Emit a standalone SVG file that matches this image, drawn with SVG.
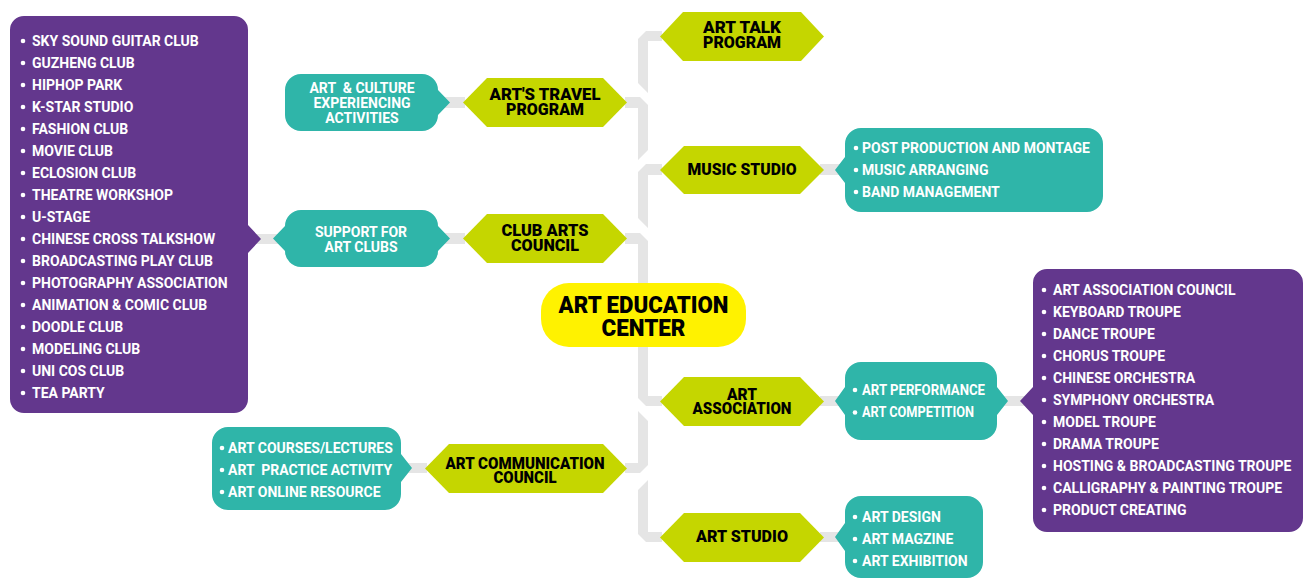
<svg xmlns="http://www.w3.org/2000/svg" width="1308" height="579" viewBox="0 0 1308 579">
<style>
.con{fill:#e5e5e5}
.hex{fill:#c5d600}
.teal{fill:#2fb5a9}
.purp{fill:#63378d}
.ctr{fill:#fff200}
.hx{font-family:Roboto,"Liberation Sans",sans-serif;font-weight:900;font-size:16.5px;fill:#000;text-anchor:middle}
.big{font-size:24px}
.lt{font-family:Roboto,"Liberation Sans",sans-serif;font-weight:700;font-size:14px;fill:#fff}
.ct{text-anchor:middle}
.pre{white-space:pre}
.dot{fill:#fff}
</style>
<rect width="1308" height="579" fill="#fff"/>
<g id="connectors">
<polygon class="con" points="646,31 662,31 662,41 648,41 648,93 638,83 638,39"/>
<polygon class="con" points="625,97 640,97 648,105 648,150 638,160 638,108 625,108"/>
<polygon class="con" points="646,164 662,164 662,175 648,175 648,228 638,218 638,172"/>
<polygon class="con" points="625,233 640,233 648,241 648,285 638,285 638,244 625,244"/>
<polygon class="con" points="638,345 648,345 648,396 662,396 662,406 646,406 638,398"/>
<polygon class="con" points="638,411 648,421 648,465 640,473 625,473 625,463 638,463"/>
<polygon class="con" points="648,480 648,532 662,532 662,542 646,542 638,534 638,490"/>
<rect class="con" x="246" y="234" width="40" height="10"/>
<rect class="con" x="436" y="97" width="29" height="11"/>
<rect class="con" x="436" y="233" width="29" height="11"/>
<rect class="con" x="820" y="164" width="27" height="11"/>
<rect class="con" x="820" y="396" width="27" height="10"/>
<rect class="con" x="995" y="396" width="40" height="10"/>
<rect class="con" x="399" y="463" width="28" height="10"/>
<rect class="con" x="820" y="532" width="27" height="10"/>
</g>
<g id="center">
<rect class="ctr" x="541" y="283" width="205" height="64" rx="28"/>
<text class="hx big" x="643.5" y="313" textLength="170" lengthAdjust="spacingAndGlyphs">ART EDUCATION</text>
<text class="hx big" x="643.5" y="336" textLength="84" lengthAdjust="spacingAndGlyphs">CENTER</text>
</g>
<g id="art-talk">
<polygon class="hex" points="660,36.5 683,12 801,12 824,36.5 801,61 683,61"/>
<text class="hx" x="742" y="33" textLength="78" lengthAdjust="spacingAndGlyphs">ART TALK</text>
<text class="hx" x="742" y="48" textLength="78" lengthAdjust="spacingAndGlyphs">PROGRAM</text>
</g>
<g id="arts-travel">
<polygon class="hex" points="463,102.5 487,78 603,78 627,102.5 603,127 487,127"/>
<text class="hx" x="545" y="100" textLength="111" lengthAdjust="spacingAndGlyphs">ART'S TRAVEL</text>
<text class="hx" x="545" y="115" textLength="78" lengthAdjust="spacingAndGlyphs">PROGRAM</text>
</g>
<g id="music-studio">
<polygon class="hex" points="660,170 684,146 800,146 824,170 800,194 684,194"/>
<text class="hx" x="742" y="175" textLength="109" lengthAdjust="spacingAndGlyphs">MUSIC STUDIO</text>
</g>
<g id="club-arts">
<polygon class="hex" points="463,238.5 487,214 603,214 627,238.5 603,263 487,263"/>
<text class="hx" x="545" y="236" textLength="87" lengthAdjust="spacingAndGlyphs">CLUB ARTS</text>
<text class="hx" x="545" y="251" textLength="68" lengthAdjust="spacingAndGlyphs">COUNCIL</text>
</g>
<g id="art-association">
<polygon class="hex" points="660,401.5 684,377 800,377 824,401.5 800,426 684,426"/>
<text class="hx" x="742" y="400" textLength="30" lengthAdjust="spacingAndGlyphs">ART</text>
<text class="hx" x="742" y="414" textLength="99" lengthAdjust="spacingAndGlyphs">ASSOCIATION</text>
</g>
<g id="art-communication">
<polygon class="hex" points="425,468.5 449,444 603,444 627,468.5 603,493 449,493"/>
<text class="hx" x="525" y="469" textLength="159" lengthAdjust="spacingAndGlyphs">ART COMMUNICATION</text>
<text class="hx" x="525" y="483" textLength="63" lengthAdjust="spacingAndGlyphs">COUNCIL</text>
</g>
<g id="art-studio">
<polygon class="hex" points="660,537.5 684,513 800,513 824,537.5 800,562 684,562"/>
<text class="hx" x="742" y="542" textLength="92" lengthAdjust="spacingAndGlyphs">ART STUDIO</text>
</g>
<g id="culture-activities">
<path class="teal" d="M301,74 H422 A16,16 0 0 1 438,90 L450,102.5 L438,115 A16,16 0 0 1 422,131 H301 A16,16 0 0 1 285,115 V90 A16,16 0 0 1 301,74 Z"/>
<text class="lt ct pre" x="362" y="93" xml:space="preserve">ART  &amp; CULTURE</text>
<text class="lt ct" x="362" y="108">EXPERIENCING</text>
<text class="lt ct" x="362" y="123">ACTIVITIES</text>
</g>
<g id="support-clubs">
<path class="teal" d="M301,210 H422 A16,16 0 0 1 438,226 L450,238.5 L438,251 A16,16 0 0 1 422,267 H301 A16,16 0 0 1 285,251 L273,238.5 L285,226 A16,16 0 0 1 301,210 Z"/>
<text class="lt ct" x="361" y="237">SUPPORT FOR</text>
<text class="lt ct" x="361" y="252">ART CLUBS</text>
</g>
<g id="clubs-list">
<path class="purp" d="M24,16 H234 A14,14 0 0 1 248,30 V225 L261,239 L248,253 V399 A14,14 0 0 1 234,413 H24 A14,14 0 0 1 10,399 V30 A14,14 0 0 1 24,16 Z"/>
<g class="dot">
<circle cx="23" cy="41" r="2.3"/><circle cx="23" cy="63" r="2.3"/><circle cx="23" cy="85" r="2.3"/><circle cx="23" cy="107" r="2.3"/><circle cx="23" cy="129" r="2.3"/><circle cx="23" cy="151" r="2.3"/><circle cx="23" cy="173" r="2.3"/><circle cx="23" cy="195" r="2.3"/><circle cx="23" cy="217" r="2.3"/><circle cx="23" cy="239" r="2.3"/><circle cx="23" cy="261" r="2.3"/><circle cx="23" cy="283" r="2.3"/><circle cx="23" cy="305" r="2.3"/><circle cx="23" cy="327" r="2.3"/><circle cx="23" cy="349" r="2.3"/><circle cx="23" cy="371" r="2.3"/><circle cx="23" cy="393" r="2.3"/>
</g>
<text class="lt" x="32" y="45.5">SKY SOUND GUITAR CLUB</text>
<text class="lt" x="32" y="67.5">GUZHENG CLUB</text>
<text class="lt" x="32" y="89.5">HIPHOP PARK</text>
<text class="lt" x="32" y="111.5">K-STAR STUDIO</text>
<text class="lt" x="32" y="133.5">FASHION CLUB</text>
<text class="lt" x="32" y="155.5">MOVIE CLUB</text>
<text class="lt" x="32" y="177.5">ECLOSION CLUB</text>
<text class="lt" x="32" y="199.5">THEATRE WORKSHOP</text>
<text class="lt" x="32" y="221.5">U-STAGE</text>
<text class="lt" x="32" y="243.5">CHINESE CROSS TALKSHOW</text>
<text class="lt" x="32" y="265.5">BROADCASTING PLAY CLUB</text>
<text class="lt" x="32" y="287.5">PHOTOGRAPHY ASSOCIATION</text>
<text class="lt" x="32" y="309.5">ANIMATION &amp; COMIC CLUB</text>
<text class="lt" x="32" y="331.5">DOODLE CLUB</text>
<text class="lt" x="32" y="353.5">MODELING CLUB</text>
<text class="lt" x="32" y="375.5">UNI COS CLUB</text>
<text class="lt" x="32" y="397.5">TEA PARTY</text>
</g>
<g id="music-list">
<path class="teal" d="M861,128 H1087 A16,16 0 0 1 1103,144 V196 A16,16 0 0 1 1087,212 H861 A16,16 0 0 1 845,196 V183 L835,170 L845,157 V144 A16,16 0 0 1 861,128 Z"/>
<g class="dot"><circle cx="856" cy="148" r="2.3"/><circle cx="856" cy="170" r="2.3"/><circle cx="856" cy="192" r="2.3"/></g>
<text class="lt" x="862" y="153">POST PRODUCTION AND MONTAGE</text>
<text class="lt" x="862" y="175">MUSIC ARRANGING</text>
<text class="lt" x="862" y="197">BAND MANAGEMENT</text>
</g>
<g id="performance">
<path class="teal" d="M861,362 H981 A16,16 0 0 1 997,378 V387 L1008,401 L997,415 V424 A16,16 0 0 1 981,440 H861 A16,16 0 0 1 845,424 V415 L835,401 L845,387 V378 A16,16 0 0 1 861,362 Z"/>
<g class="dot"><circle cx="855" cy="390" r="2.3"/><circle cx="855" cy="412.5" r="2.3"/></g>
<text class="lt" x="862" y="394.5" textLength="123" lengthAdjust="spacingAndGlyphs">ART PERFORMANCE</text>
<text class="lt" x="862" y="417" textLength="112" lengthAdjust="spacingAndGlyphs">ART COMPETITION</text>
</g>
<g id="troupes-list">
<path class="purp" d="M1047,269 H1289 A14,14 0 0 1 1303,283 V518 A14,14 0 0 1 1289,532 H1047 A14,14 0 0 1 1033,518 V415 L1020,401 L1033,387 V283 A14,14 0 0 1 1047,269 Z"/>
<g class="dot">
<circle cx="1044" cy="290" r="2.3"/><circle cx="1044" cy="312" r="2.3"/><circle cx="1044" cy="334" r="2.3"/><circle cx="1044" cy="356" r="2.3"/><circle cx="1044" cy="378" r="2.3"/><circle cx="1044" cy="400" r="2.3"/><circle cx="1044" cy="422" r="2.3"/><circle cx="1044" cy="444" r="2.3"/><circle cx="1044" cy="466" r="2.3"/><circle cx="1044" cy="488" r="2.3"/><circle cx="1044" cy="510" r="2.3"/>
</g>
<text class="lt" x="1053" y="295">ART ASSOCIATION COUNCIL</text>
<text class="lt" x="1053" y="317">KEYBOARD TROUPE</text>
<text class="lt" x="1053" y="339">DANCE TROUPE</text>
<text class="lt" x="1053" y="361">CHORUS TROUPE</text>
<text class="lt" x="1053" y="383">CHINESE ORCHESTRA</text>
<text class="lt" x="1053" y="405">SYMPHONY ORCHESTRA</text>
<text class="lt" x="1053" y="427">MODEL TROUPE</text>
<text class="lt" x="1053" y="449">DRAMA TROUPE</text>
<text class="lt" x="1053" y="471">HOSTING &amp; BROADCASTING TROUPE</text>
<text class="lt" x="1053" y="493">CALLIGRAPHY &amp; PAINTING TROUPE</text>
<text class="lt" x="1053" y="515">PRODUCT CREATING</text>
</g>
<g id="design-list">
<path class="teal" d="M861,496 H967 A16,16 0 0 1 983,512 V562 A16,16 0 0 1 967,578 H861 A16,16 0 0 1 845,562 V551 L835,537 L845,523 V512 A16,16 0 0 1 861,496 Z"/>
<g class="dot"><circle cx="855" cy="517" r="2.3"/><circle cx="855" cy="539" r="2.3"/><circle cx="855" cy="561" r="2.3"/></g>
<text class="lt" x="862" y="521.5">ART DESIGN</text>
<text class="lt" x="862" y="543.5">ART MAGZINE</text>
<text class="lt" x="862" y="565.5">ART EXHIBITION</text>
</g>
<g id="courses-list">
<path class="teal" d="M228,427 H385 A16,16 0 0 1 401,443 V454 L412,468 L401,482 V494 A16,16 0 0 1 385,510 H228 A16,16 0 0 1 212,494 V443 A16,16 0 0 1 228,427 Z"/>
<g class="dot"><circle cx="222" cy="448" r="2.3"/><circle cx="222" cy="470" r="2.3"/><circle cx="222" cy="492" r="2.3"/></g>
<text class="lt" x="228" y="452.5">ART COURSES/LECTURES</text>
<text class="lt pre" x="228" y="474.5" xml:space="preserve">ART  PRACTICE ACTIVITY</text>
<text class="lt" x="228" y="496.5">ART ONLINE RESOURCE</text>
</g>
</svg>
